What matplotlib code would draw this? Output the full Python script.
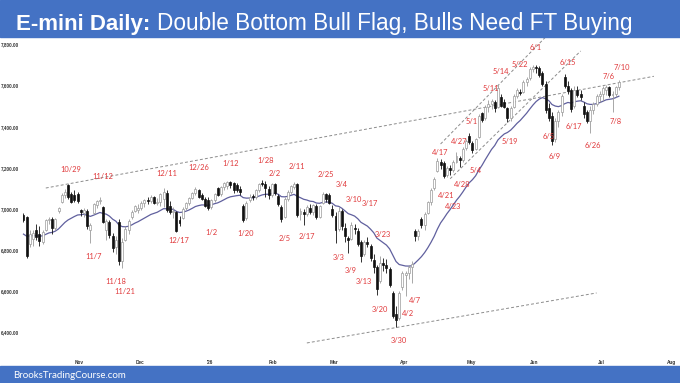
import matplotlib
matplotlib.use("Agg")
import matplotlib.pyplot as plt
import pandas as pd
from matplotlib.patches import Rectangle

# ---- data ----
START = "2025-10-09"
CAL_END = "2026-08-05"
HOLIDAYS = ["2025-11-27", "2025-12-25", "2026-01-01", "2026-01-19", "2026-02-16",
            "2026-04-03", "2026-05-25", "2026-06-19", "2026-07-03"]

# daily OHLC, Oct 9 2025 .. Jul 10 2026 (one row per trading day)
OHLC = [
    # Oct
    (6972, 6980, 6937, 6945), (6960, 6966, 6762, 6772), (6830, 6900, 6815, 6880),
    (6855, 6898, 6818, 6885), (6900, 6925, 6850, 6865), (6880, 6915, 6820, 6845),
    (6840, 6900, 6830, 6890), (6900, 6950, 6895, 6945), (6945, 6960, 6925, 6950),
    (6950, 6960, 6880, 6910), (6910, 6955, 6900, 6950), (6990, 7012, 6980, 7005),
    (7035, 7080, 7030, 7070), (7070, 7095, 7055, 7085), (7115, 7122, 7050, 7060),
    (7075, 7085, 7030, 7035), (7070, 7090, 7035, 7045),
    # Nov
    (7075, 7085, 7030, 7040), (6995, 7000, 6965, 6985), (6980, 7005, 6960, 6995),
    (6990, 6998, 6905, 6915), (6900, 6930, 6835, 6920), (6980, 7030, 6975, 7025),
    (7020, 7045, 7005, 7040), (7040, 7060, 7025, 7045), (7010, 7015, 6930, 6935),
    (6900, 6950, 6850, 6940), (6935, 6945, 6860, 6875), (6870, 6885, 6790, 6810),
    (6815, 6870, 6780, 6850), (6935, 6950, 6730, 6745), (6745, 6860, 6712, 6840),
    (6850, 6915, 6845, 6905), (6900, 6950, 6880, 6940), (6960, 6995, 6950, 6985),
    (6990, 7020, 6985, 7015),
    # Dec
    (6995, 7025, 6980, 7005), (7005, 7040, 6995, 7030), (7030, 7050, 7010, 7045),
    (7045, 7060, 7025, 7040), (7040, 7070, 7030, 7060), (7060, 7065, 7025, 7030),
    (7030, 7055, 7020, 7035), (7035, 7080, 7015, 7075), (7050, 7100, 7010, 7085),
    (7080, 7092, 6985, 6995), (7015, 7040, 6975, 6985), (6985, 7010, 6955, 6990),
    (6985, 6992, 6888, 6895), (6945, 6965, 6915, 6930), (6955, 7010, 6950, 7000),
    (7005, 7035, 6995, 7030), (7030, 7060, 7020, 7055), (7055, 7085, 7050, 7080),
    (7080, 7107, 7070, 7095), (7090, 7095, 7055, 7060), (7070, 7080, 7045, 7050),
    (7050, 7060, 7010, 7015),
    # Jan
    (7045, 7060, 6995, 7005), (7010, 7050, 7000, 7045), (7045, 7080, 7035, 7075),
    (7100, 7105, 7065, 7070), (7075, 7110, 7065, 7105), (7105, 7130, 7090, 7125),
    (7110, 7138, 7095, 7130), (7130, 7135, 7100, 7115), (7125, 7130, 7080, 7090),
    (7115, 7125, 7085, 7090), (7095, 7110, 7070, 7085), (7015, 7025, 6937, 6945),
    (6955, 7040, 6945, 7030), (7045, 7075, 7035, 7060), (7060, 7075, 7045, 7058),
    (7060, 7095, 7050, 7090), (7090, 7125, 7085, 7120), (7125, 7142, 7110, 7120),
    (7120, 7135, 7060, 7100), (7095, 7110, 7050, 7070),
    # Feb
    (7070, 7128, 7060, 7120), (7120, 7125, 7070, 7080), (7065, 7075, 7015, 7025),
    (7010, 7020, 6937, 6950), (6960, 7060, 6955, 7050), (7050, 7090, 7040, 7085),
    (7085, 7115, 7075, 7110), (7105, 7130, 7095, 7120), (7120, 7125, 6961, 6970),
    (6975, 7005, 6945, 6990), (6985, 7000, 6920, 6975), (6975, 7020, 6965, 7010),
    (7005, 7025, 6975, 6985), (6985, 7025, 6970, 7020), (7015, 7025, 6950, 6960),
    (6960, 7020, 6955, 7015), (7030, 7085, 7025, 7075), (7075, 7080, 7035, 7050),
    (7070, 7078, 7025, 7030),
    # Mar
    (7000, 7020, 6960, 6970), (6965, 6985, 6835, 6900), (6905, 7010, 6895, 6990),
    (6990, 7000, 6900, 6915), (6910, 6930, 6840, 6870), (6860, 6870, 6786, 6850),
    (6855, 6938, 6850, 6920), (6910, 6925, 6880, 6905), (6895, 6910, 6820, 6830),
    (6840, 6850, 6742, 6770), (6780, 6850, 6770, 6840), (6840, 6865, 6815, 6830),
    (6820, 6830, 6745, 6760), (6750, 6780, 6690, 6720), (6720, 6730, 6582, 6610),
    (6650, 6770, 6640, 6740), (6740, 6760, 6700, 6730), (6730, 6755, 6690, 6715),
    (6710, 6720, 6620, 6630), (6590, 6600, 6470, 6480), (6490, 6530, 6426, 6460),
    (6470, 6600, 6460, 6590),
    # Apr
    (6620, 6700, 6605, 6690), (6680, 6700, 6575, 6690), (6690, 6730, 6660, 6720),
    (6720, 6745, 6640, 6735), (6895, 6905, 6845, 6870), (6870, 6905, 6850, 6895),
    (6950, 6960, 6910, 6920), (6920, 6985, 6900, 6975), (6980, 7040, 6975, 7035),
    (7035, 7100, 7020, 7090), (7100, 7155, 7090, 7145), (7185, 7250, 7180, 7235),
    (7230, 7245, 7195, 7215), (7225, 7235, 7150, 7160), (7165, 7210, 7155, 7200),
    (7200, 7215, 7165, 7190), (7190, 7240, 7180, 7230), (7230, 7275, 7225, 7260),
    (7250, 7260, 7205, 7240), (7240, 7300, 7230, 7290), (7295, 7340, 7285, 7330),
    # May
    (7355, 7370, 7315, 7325), (7320, 7330, 7270, 7285), (7290, 7345, 7285, 7340),
    (7350, 7460, 7345, 7450), (7465, 7470, 7425, 7432), (7440, 7505, 7435, 7495),
    (7495, 7530, 7470, 7510), (7510, 7535, 7485, 7525), (7520, 7530, 7470, 7490),
    (7495, 7603, 7490, 7590), (7545, 7560, 7495, 7500), (7520, 7535, 7490, 7495),
    (7490, 7495, 7423, 7440), (7440, 7500, 7430, 7490), (7495, 7560, 7490, 7550),
    (7550, 7590, 7540, 7580), (7570, 7585, 7555, 7562), (7570, 7625, 7565, 7615),
    (7615, 7640, 7600, 7630), (7635, 7690, 7625, 7680),
    # Jun
    (7680, 7702, 7665, 7690), (7690, 7700, 7660, 7685), (7685, 7695, 7640, 7650),
    (7660, 7670, 7600, 7610), (7610, 7620, 7465, 7480), (7490, 7515, 7430, 7440),
    (7450, 7470, 7311, 7330), (7340, 7440, 7325, 7430), (7430, 7480, 7400, 7470),
    (7470, 7560, 7450, 7550), (7640, 7656, 7590, 7600), (7600, 7620, 7560, 7575),
    (7580, 7590, 7472, 7485), (7500, 7600, 7490, 7580), (7580, 7600, 7545, 7555),
    (7560, 7580, 7530, 7545), (7500, 7520, 7440, 7460), (7470, 7480, 7420, 7430),
    (7430, 7500, 7370, 7480), (7480, 7520, 7460, 7510), (7510, 7560, 7500, 7550),
    # Jul
    (7550, 7575, 7520, 7560), (7560, 7600, 7525, 7590), (7580, 7605, 7555, 7595),
    (7595, 7600, 7545, 7555), (7555, 7575, 7472, 7560), (7560, 7600, 7545, 7595),
    (7595, 7628, 7580, 7615),
]

EMA_START = 6878      # 20-bar EMA value at the first bar
EMA_SPAN = 20

# swing labels: (date, text, price of label centre)
LABELS = [
    ("2025-10-29", "10/29", 7194), ("2025-11-12", "11/12", 7160), ("2025-12-11", "12/11", 7175),
    ("2025-12-26", "12/26", 7204), ("2026-01-12", "1/12", 7219), ("2026-01-28", "1/28", 7238),
    ("2026-02-02", "2/2", 7175), ("2026-02-11", "2/11", 7209), ("2026-02-25", "2/25", 7170),
    ("2026-03-04", "3/4", 7117), ("2026-03-10", "3/10", 7044), ("2026-03-17", "3/17", 7029),
    ("2026-03-23", "3/23", 6874), ("2025-11-07", "11/7", 6767), ("2025-11-18", "11/18", 6650),
    ("2025-11-21", "11/21", 6597), ("2025-12-17", "12/17", 6849), ("2026-01-02", "1/2", 6888),
    ("2026-01-20", "1/20", 6883), ("2026-02-05", "2/5", 6859), ("2026-02-17", "2/17", 6864),
    ("2026-03-03", "3/3", 6762), ("2026-03-09", "3/9", 6703), ("2026-03-13", "3/13", 6650),
    ("2026-03-20", "3/20", 6514), ("2026-04-02", "4/2", 6494), ("2026-04-07", "4/7", 6553),
    ("2026-03-30", "3/30", 6363), ("2026-04-17", "4/17", 7277), ("2026-04-21", "4/21", 7068),
    ("2026-04-23", "4/23", 7010), ("2026-04-27", "4/27", 7326), ("2026-04-28", "4/28", 7117),
    ("2026-05-01", "5/1", 7423), ("2026-05-04", "5/4", 7185), ("2026-05-11", "5/11", 7588),
    ("2026-05-14", "5/14", 7666), ("2026-05-19", "5/19", 7326), ("2026-05-22", "5/22", 7700),
    ("2026-06-01", "6/1", 7783), ("2026-06-05", "6/5", 7350), ("2026-06-09", "6/9", 7253),
    ("2026-06-15", "6/15", 7710), ("2026-06-17", "6/17", 7403), ("2026-06-26", "6/26", 7311),
    ("2026-07-06", "7/6", 7642), ("2026-07-08", "7/8", 7423), ("2026-07-10", "7/10", 7690),
]

# dashed trend lines: (date, price) -> (date, price)
TRENDLINES = [
    (("2025-10-20", 7102), ("2026-07-27", 7645)),
    (("2026-02-18", 6349), ("2026-06-30", 6592)),
    (("2026-04-20", 7316), ("2026-06-05", 7836)),
    (("2026-04-23", 7147), ("2026-06-23", 7768)),
]

Y_TICKS = [6400, 6600, 6800, 7000, 7200, 7400, 7600, 7800]
MONTH_LABELS = ["Nov", "Dec", "'26", "Feb", "Mar", "Apr", "May", "Jun", "Jul", "Aug"]

# ---- layout ----
W, H = 680, 383
BLUE = "#4472c4"
RED = "#e0393b"

cal = pd.bdate_range(START, CAL_END, freq="C", holidays=HOLIDAYS)
pos = {d.strftime("%Y-%m-%d"): i for i, d in enumerate(cal)}
n = len(OHLC)

fig = plt.figure(figsize=(W / 100, H / 100), dpi=100)
ax = fig.add_axes([0, 17 / H, 1, (366 - 37) / H])
ax.set_xlim(-7.38, 206.2)
ax.set_ylim(6237, 7836)
for s in ax.spines.values():
    s.set_visible(False)

# trend lines
for (d1, p1), (d2, p2) in TRENDLINES:
    ax.plot([pos[d1], pos[d2]], [p1, p2], color="#8c8c8c", lw=0.7,
            ls=(0, (3, 2.2)), zorder=1)

# EMA
ema = [EMA_START]
alpha = 2 / (EMA_SPAN + 1)
for o, h, l, c in OHLC[1:]:
    ema.append(ema[-1] + alpha * (c - ema[-1]))
ax.plot(range(n), ema, color="#60609e", lw=0.9, zorder=2)

# candles
for i, (o, h, l, c) in enumerate(OHLC):
    up = c >= o
    wick = "#9a9a9a" if up else "#111111"
    ax.vlines(i, l, h, colors=wick, lw=0.6, zorder=3)
    bottom = min(o, c)
    height = max(abs(c - o), 3)
    ax.bar(i, height, bottom=bottom, width=0.62,
           color="white" if up else "#111111",
           edgecolor="#9a9a9a" if up else "#111111", lw=0.5, zorder=4)

# labels
for d, txt, p in LABELS:
    ax.text(pos[d] + 0.9, p, txt, color=RED, fontsize=5.4, family="Lato",
            ha="center", va="center", zorder=5)

# y ticks inside the plot
ax.set_yticks(Y_TICKS)
ax.set_yticklabels([f"{v:,.2f}" for v in Y_TICKS])
ax.tick_params(axis="y", length=0, pad=-0.7, labelsize=3.3, labelcolor="#333333")
for t in ax.get_yticklabels():
    t.set_horizontalalignment("left")
    t.set_fontweight("bold")
    t.set_family("Liberation Sans")

# month ticks at first trading day of each month
month_pos = []
seen = set()
for i, d in enumerate(cal):
    key = (d.year, d.month)
    if key not in seen:
        seen.add(key)
        if d.month != 10:
            month_pos.append(i + 0.5)
ax.set_xticks(month_pos[:len(MONTH_LABELS)])
ax.set_xticklabels(MONTH_LABELS)
ax.tick_params(axis="x", length=0, pad=-4.1, labelsize=3.4, labelcolor="#333333")
for t in ax.get_xticklabels():
    t.set_fontweight("bold")
    t.set_family("Liberation Sans")

# banners
fig.patches.append(Rectangle((0, 1 - 37 / H), 1, 37 / H, transform=fig.transFigure,
                             color=BLUE, zorder=0))
fig.patches.append(Rectangle((0, 0), 1, 17 / H, transform=fig.transFigure,
                             color=BLUE, zorder=0))

t1 = fig.text(16 / W, 1 - 30 / H, "E-mini Daily:", color="white", fontsize=16,
              fontweight="bold", family="Liberation Sans", va="baseline")
fig.canvas.draw()
bb = t1.get_window_extent()
fig.text((bb.x1 + 7) / W, 1 - 30 / H, "Double Bottom Bull Flag, Bulls Need FT Buying",
         color="white", fontsize=16.3, family="Liberation Sans", va="baseline")
fig.text(13 / W, 5 / H, "BrooksTradingCourse.com", color="white", fontsize=7,
         family="Lato", va="baseline")

fig.savefig("out.png", dpi=100)
